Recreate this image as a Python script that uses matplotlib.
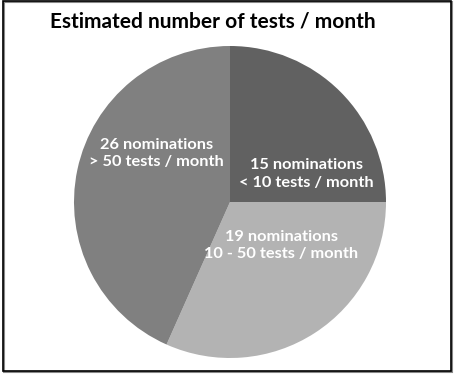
import matplotlib.pyplot as plt
from matplotlib.patches import Rectangle

title = 'Estimated number of tests / month'
counts = [15, 19, 26]
ranges = ['< 10 tests / month', '10 - 50 tests / month', '> 50 tests / month']
colors = ['#616161', '#b3b3b3', '#808080']
# label centres in pie units (radius 1)
label_pos = [(0.49, 0.18), (0.33, -0.28), (-0.47, 0.31)]


def main():
    plt.rcParams['font.family'] = ['Lato', 'DejaVu Sans']
    fig = plt.figure(figsize=(4.56, 3.77), dpi=100)
    ax = fig.add_axes([74 / 456, 19 / 377, 312 / 456, 312 / 377])

    ax.pie(counts, colors=colors, startangle=90, counterclock=False,
           radius=1, wedgeprops=dict(linewidth=0))
    ax.set_xlim(-1, 1)
    ax.set_ylim(-1, 1)
    ax.set_aspect('equal')
    ax.axis('off')

    for n, r, (x, y) in zip(counts, ranges, label_pos):
        ax.text(x, y, f'{n} nominations\n{r}', ha='center', va='center',
                color='white', fontsize=11.8, fontweight='bold', linespacing=1.3)

    fig.text(213 / 456, 1 - 21 / 377, title, ha='center', va='center',
             fontsize=15, fontweight='bold')

    # frame around the whole chart
    fig.patches.append(Rectangle((4 / 456, 5 / 377), 448 / 456, 370 / 377,
                                 transform=fig.transFigure, fill=False,
                                 edgecolor='#888888', linewidth=1.5))
    fig.patches.append(Rectangle((3 / 456, 6 / 377), 448 / 456, 370 / 377,
                                 transform=fig.transFigure, fill=False,
                                 edgecolor='black', linewidth=1.2))

    fig.savefig('out.png', dpi=100)


if __name__ == '__main__':
    main()
